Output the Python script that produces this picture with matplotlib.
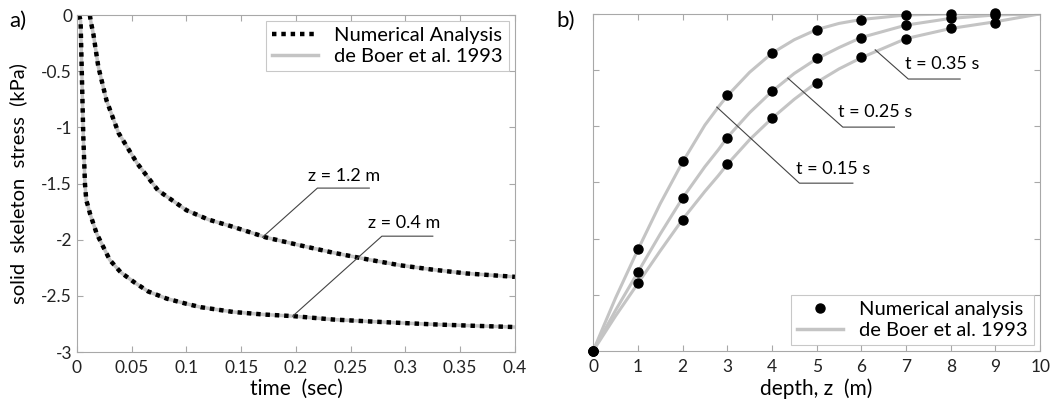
import numpy as np
import matplotlib
matplotlib.use("Agg")
import matplotlib.pyplot as plt

plt.rcParams['font.family'] = ['Lato', 'DejaVu Sans']

# panel a) - stress vs time at two depths
t_z04 = [0.002, 0.0033, 0.0043, 0.0058, 0.0073, 0.0085, 0.0095, 0.012, 0.018, 0.030, 0.040,
         0.052, 0.065, 0.082, 0.10, 0.113, 0.143, 0.17, 0.198, 0.234, 0.265, 0.30, 0.325, 0.36, 0.4]
s_z04 = [0, -0.05, -0.46, -1.08, -1.5, -1.65, -1.68, -1.77, -1.945, -2.18, -2.29,
         -2.376, -2.46, -2.524, -2.57, -2.6, -2.643, -2.665, -2.68, -2.71, -2.726, -2.742, -2.753, -2.765, -2.777]
t_z12 = [0.0118, 0.0125, 0.015, 0.0195, 0.027, 0.038, 0.055, 0.074, 0.1, 0.12, 0.143,
         0.173, 0.204, 0.234, 0.265, 0.295, 0.325, 0.356, 0.4]
s_z12 = [0, -0.05, -0.17, -0.46, -0.76, -1.05, -1.32, -1.56, -1.737, -1.82, -1.886,
         -1.98, -2.05, -2.115, -2.174, -2.227, -2.266, -2.30, -2.33]

# panel b) - profiles over depth
depth = [0, 1, 2, 3, 4, 5, 6, 7, 8, 9]
num_015 = [-3, -2.095, -1.312, -0.724, -0.35, -0.142, -0.053, -0.009, 0.0, 0.01]
num_025 = [-3, -2.294, -1.641, -1.101, -0.685, -0.395, -0.211, -0.098, -0.039, -0.009]
num_035 = [-3, -2.398, -1.834, -1.338, -0.929, -0.611, -0.386, -0.223, -0.128, -0.077]

depth_ref = [0, 0.5, 1, 1.5, 2, 2.5, 2.8, 3, 3.5, 4, 4.5, 5, 5.5, 6, 7, 8, 9, 10]
ref_015 = [-3, -2.53, -2.10, -1.69, -1.32, -0.99, -0.83, -0.73, -0.52, -0.35, -0.23, -0.14, -0.085, -0.05, -0.01, 0, 0, 0]
ref_025 = [-3, -2.64, -2.30, -1.96, -1.64, -1.36, -1.21, -1.10, -0.88, -0.69, -0.53, -0.40, -0.30, -0.21, -0.10, -0.04, -0.01, 0]
ref_035 = [-3, -2.69, -2.40, -2.11, -1.83, -1.58, -1.44, -1.34, -1.12, -0.93, -0.76, -0.61, -0.49, -0.39, -0.22, -0.13, -0.07, 0]

grey = '#c4c4c4'
spine_c = '#a8a8a8'

fig = plt.figure(figsize=(10.63, 4.08), dpi=100)
ax1 = fig.add_axes([0.0724, 0.137, 0.412, 0.826])
ax2 = fig.add_axes([0.558, 0.140, 0.4205, 0.826])

for ax in (ax1, ax2):
    for sp in ax.spines.values():
        sp.set_color(spine_c)
    ax.tick_params(direction='in', top=True, right=True, color=spine_c, length=4,
                   labelsize=12.5, labelcolor='#222222')
    ax.tick_params(axis='x', pad=6)

# --- a)
ax1.plot(t_z04, s_z04, color=grey, lw=2.5)
ax1.plot(t_z12, s_z12, color=grey, lw=2.5)
ax1.plot(t_z04, s_z04, color='black', lw=3.2, ls=(0, (1, 1.1)), label='Numerical Analysis')
ax1.plot(t_z12, s_z12, color='black', lw=3.2, ls=(0, (1, 1.1)))
ax1.plot([], [], color=grey, lw=2.5, label='de Boer et al. 1993')
ax1.set_xlim(0, 0.4)
ax1.set_ylim(-3, 0)
xt1 = [0, 0.05, 0.1, 0.15, 0.2, 0.25, 0.3, 0.35, 0.4]
ax1.set_xticks(xt1)
ax1.set_xticklabels(['0', '0.05', '0.1', '0.15', '0.2', '0.25', '0.3', '0.35', '0.4'])
yt1 = [0, -0.5, -1, -1.5, -2, -2.5, -3]
ax1.set_yticks(yt1)
ax1.set_yticklabels(['0', '-0.5', '-1', '-1.5', '-2', '-2.5', '-3'])
ax1.set_xlabel('time  (sec)', fontsize=15, labelpad=2)
ax1.set_ylabel('solid  skeleton  stress  (kPa)', fontsize=14.5, labelpad=10)
leg1 = ax1.legend(loc='upper right', fontsize=14.5, frameon=True, fancybox=False,
                  handlelength=2.3, handletextpad=0.8, borderpad=0.3, labelspacing=0.2,
                  borderaxespad=0.3)
leg1.get_frame().set_edgecolor('#bbbbbb')
leg1.get_frame().set_linewidth(0.8)

lc = '#444444'
ax1.plot([0.1695, 0.2196, 0.267], [-1.977, -1.54, -1.54], color=lc, lw=0.8)
ax1.text(0.244, -1.43, 'z = 1.2 m', fontsize=13, ha='center', va='center')
ax1.plot([0.197, 0.2785, 0.325], [-2.68, -1.968, -1.968], color=lc, lw=0.8)
ax1.text(0.299, -1.85, 'z = 0.4 m', fontsize=13, ha='center', va='center')
fig.text(0.009, 0.935, 'a)', fontsize=16)

# --- b)
for ref in (ref_015, ref_025, ref_035):
    ax2.plot(depth_ref, ref, color=grey, lw=2.2, zorder=2)
ax2.plot([], [], color=grey, lw=2.5, label='de Boer et al. 1993')
for i, num in enumerate((num_015, num_025, num_035)):
    ax2.plot(depth, num, 'o', color='black', ms=6.5, clip_on=False, zorder=3,
             label='Numerical analysis' if i == 0 else None)
ax2.set_xlim(0, 10)
ax2.set_ylim(-3, 0)
ax2.set_xticks(range(11))
ax2.set_yticks(yt1)
ax2.set_yticklabels([])
ax2.set_xlabel('depth, z  (m)', fontsize=15, labelpad=2)
h, l = ax2.get_legend_handles_labels()
leg2 = ax2.legend([h[1], h[0]], [l[1], l[0]], loc='lower right', fontsize=14.5, frameon=True,
                  fancybox=False, handlelength=2.3, handletextpad=0.8, borderpad=0.3,
                  labelspacing=0.2, borderaxespad=0.3)
leg2.get_frame().set_edgecolor('#bbbbbb')
leg2.get_frame().set_linewidth(0.8)

ax2.plot([6.31, 7.05, 8.21], [-0.32, -0.58, -0.58], color=lc, lw=0.8)
ax2.text(7.80, -0.45, 't = 0.35 s', fontsize=13, ha='center', va='center')
ax2.plot([4.355, 5.585, 6.74], [-0.572, -1.008, -1.008], color=lc, lw=0.8)
ax2.text(6.31, -0.877, 't = 0.25 s', fontsize=13, ha='center', va='center')
ax2.plot([2.767, 4.615, 5.81], [-0.83, -1.507, -1.507], color=lc, lw=0.8)
ax2.text(5.376, -1.383, 't = 0.15 s', fontsize=13, ha='center', va='center')
fig.text(0.523, 0.935, 'b)', fontsize=16)

fig.savefig('out.png', dpi=100)
